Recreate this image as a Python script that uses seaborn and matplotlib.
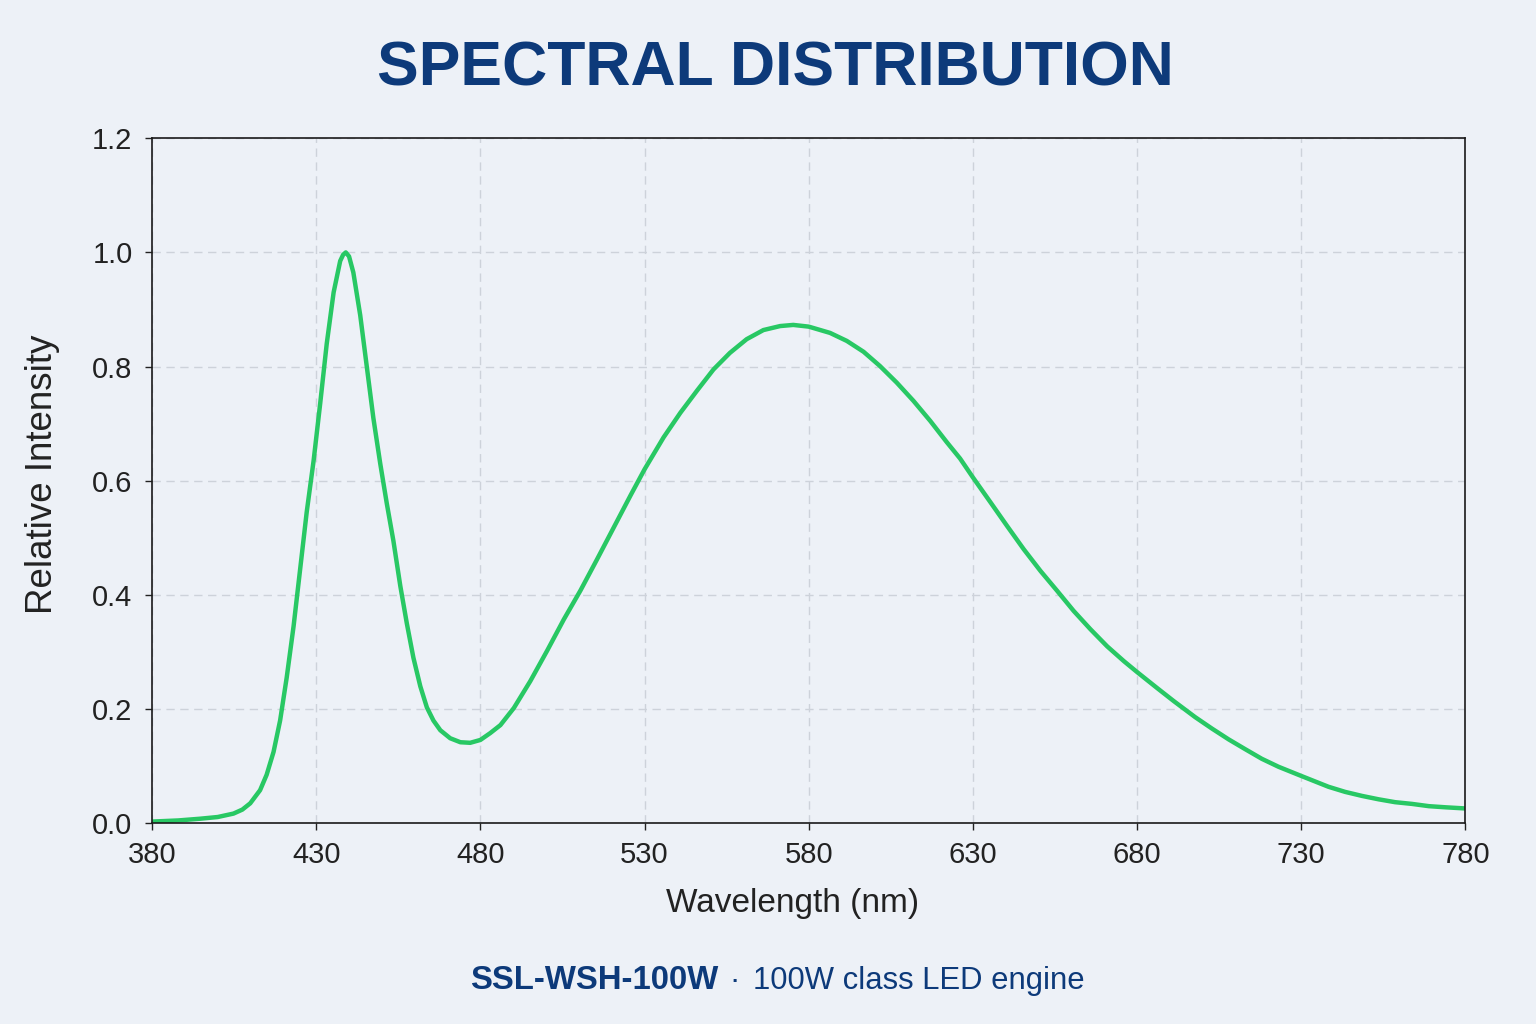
import matplotlib
matplotlib.use("Agg")
import matplotlib.pyplot as plt
import seaborn as sns
import pandas as pd

# wavelength (nm) and relative intensity
wavelength = [380, 388, 394.6, 400, 404.8, 407.5, 409.9, 412.9, 414.9, 417,
              419, 421, 423.1, 425.1, 427.1, 429.2, 431.2, 433.2, 435.3, 437.3,
              438.2, 439, 440, 441.3, 443.4, 445.4, 447.4, 449.5, 451.5, 453.5,
              455.6, 457.6, 459.6, 461.7, 463.7, 465.7, 467.8, 470.8, 473.9,
              476.9, 480, 483, 486.1, 490.2, 495.2, 500.3, 505.4, 510.5, 515.5,
              520.6, 525.7, 530, 535.8, 540.9, 546, 551, 556, 561.1, 566.2,
              571.3, 575.3, 580, 586.5, 591.6, 596.7, 601.7, 606.8, 611.9, 617,
              622, 626.1, 630, 635.4, 640.4, 645.5, 650.6, 655.7, 660.7, 665.8,
              670.9, 676, 680, 686.1, 691.2, 697.7, 702.8, 707.9, 712.9, 718,
              723.1, 730, 738.3, 743.4, 748.5, 753.6, 758.6, 763.7, 768.9, 774,
              780]
intensity = [0.003, 0.005, 0.008, 0.011, 0.017, 0.024, 0.035, 0.058, 0.085,
             0.125, 0.18, 0.255, 0.345, 0.445, 0.545, 0.635, 0.735, 0.84, 0.93,
             0.985, 0.996, 1.0, 0.993, 0.965, 0.89, 0.80, 0.71, 0.63, 0.56,
             0.495, 0.416, 0.35, 0.29, 0.24, 0.203, 0.18, 0.163, 0.149, 0.142,
             0.141, 0.146, 0.158, 0.172, 0.202, 0.249, 0.302, 0.357, 0.408,
             0.462, 0.518, 0.574, 0.62, 0.676, 0.719, 0.758, 0.795, 0.824,
             0.848, 0.864, 0.871, 0.873, 0.870, 0.859, 0.845, 0.826, 0.801,
             0.772, 0.74, 0.705, 0.668, 0.639, 0.606, 0.562, 0.521, 0.48,
             0.442, 0.407, 0.372, 0.34, 0.31, 0.284, 0.265, 0.237, 0.214,
             0.186, 0.166, 0.147, 0.13, 0.113, 0.099, 0.083, 0.064, 0.055,
             0.048, 0.042, 0.037, 0.034, 0.03, 0.028, 0.026]

x_ticks = [380, 430, 480, 530, 580, 630, 680, 730, 780]
y_ticks = [0.0, 0.2, 0.4, 0.6, 0.8, 1.0, 1.2]

title = "SPECTRAL DISTRIBUTION"
model = "SSL-WSH-100W"
model_desc = "100W class LED engine"

bg = "#edf1f7"
navy = "#0d3a7a"
green = "#28c864"

sns.set_theme(style="white")
plt.rcParams["font.family"] = ["Liberation Sans", "DejaVu Sans"]

df = pd.DataFrame({"wavelength": wavelength, "intensity": intensity})

fig = plt.figure(figsize=(15.36, 10.24), dpi=100, facecolor=bg)
ax = fig.add_axes([0.099, 0.196, 0.855, 0.669])
ax.set_facecolor(bg)

sns.lineplot(data=df, x="wavelength", y="intensity", ax=ax, color=green,
             linewidth=3.2, sort=True, estimator=None,
             solid_joinstyle="round", solid_capstyle="round")

ax.set_xlim(380, 780)
ax.set_ylim(0, 1.2)
ax.set_xticks(x_ticks)
ax.set_yticks(y_ticks)
ax.set_yticklabels([f"{v:.1f}" for v in y_ticks])
ax.grid(True, color="#cdd2da", linestyle=(0, (6, 4)), linewidth=1)
ax.tick_params(axis="both", labelsize=21, colors="#222222", length=5,
               width=1, direction="out", left=True, bottom=True)
ax.tick_params(axis="x", pad=8)
ax.tick_params(axis="y", pad=9)
for s in ax.spines.values():
    s.set_color("#1a1a1a")
    s.set_linewidth(1.2)

ax.set_xlabel("Wavelength (nm)", fontsize=24, color="#222222")
ax.set_ylabel("Relative Intensity", fontsize=26.5, color="#222222")
ax.xaxis.set_label_coords(0.488, -0.095)
ax.yaxis.set_label_coords(-0.070, 0.51)

fig.text(0.505, 0.933, title, ha="center", va="center", fontsize=45,
         fontweight="bold", color=navy)
fig.text(0.4675, 0.042, model, ha="right", va="center", fontsize=23.7,
         fontweight="bold", color=navy)
fig.text(0.4785, 0.042, "\u00b7", ha="center", va="center", fontsize=22.3,
         color=navy)
fig.text(0.4902, 0.042, model_desc, ha="left", va="center", fontsize=22.3,
         color=navy)

fig.savefig("out.png", dpi=100, facecolor=bg)
